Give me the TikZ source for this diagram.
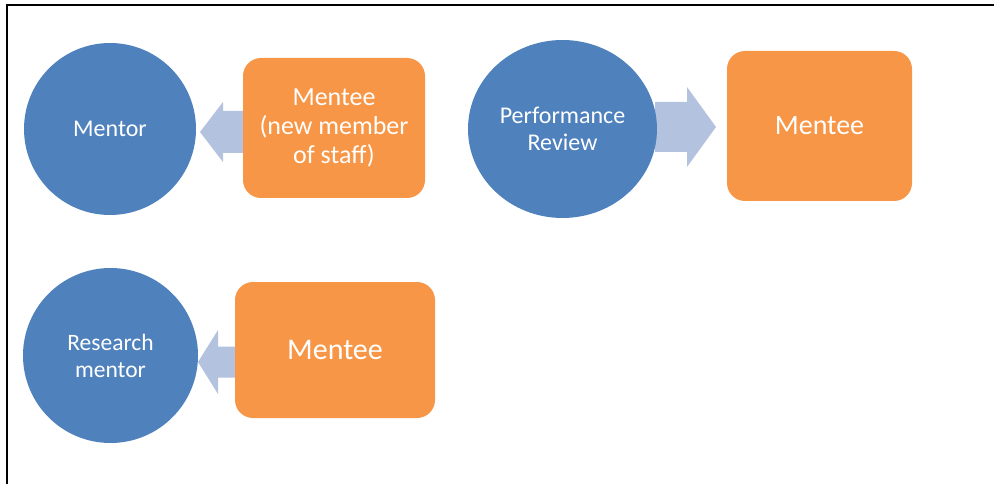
\documentclass[tikz,border=0pt]{standalone}
\usepackage{fontspec}
\setmainfont{Carlito}
\usetikzlibrary{shapes.geometric}
\definecolor{cblue}{HTML}{4F81BD}
\definecolor{corange}{HTML}{F79646}
\definecolor{carrow}{HTML}{B3C2DE}
\tikzset{
  bubble/.style={ellipse, fill=cblue, draw=none, inner sep=0pt, text=white, align=center},
  box/.style={rectangle, rounded corners=18pt, fill=corange, draw=none, inner sep=0pt, text=white, align=center},
  blockarrow/.style={fill=carrow, draw=none},
  frame/.style={draw=black, line width=2pt}
}
\begin{document}
\begin{tikzpicture}[x=1pt,y=-1pt]
\useasboundingbox (0,0) rectangle (994,484);
% frame
\draw[frame] (7,5) -- (994,5);
\draw[frame] (7,4) -- (7,484);
% arrows (drawn first, shapes overlap their ends)
\coordinate (t1) at (200,132);
\coordinate (t2) at (716,127);
\coordinate (t3) at (198,362);
\fill[blockarrow] (t1) -- ++(23,-30) -- ++(0,9) -- ++(22,0) -- ++(0,42) -- ++(-22,0) -- ++(0,9) -- cycle;
\fill[blockarrow] (t2) -- ++(-29,-40) -- ++(0,15) -- ++(-32,0) -- ++(0,50) -- ++(32,0) -- ++(0,15) -- cycle;
\fill[blockarrow] (t3) -- ++(20,-32) -- ++(0,16.5) -- ++(19,0) -- ++(0,31) -- ++(-19,0) -- ++(0,16.5) -- cycle;
% shapes
\node[bubble, minimum width=172pt, minimum height=172pt, font=\fontsize{24}{27}\selectfont] (mentor) at (110,129) {Mentor};
\node[box, minimum width=182pt, minimum height=140pt, font=\fontsize{26}{29}\selectfont] (mentee1) at (334,128) {Mentee\\(new member\\of staff)};
\node[bubble, minimum width=189pt, minimum height=178pt, font=\fontsize{24}{27}\selectfont] (review) at (562.5,129) {Performance\\Review};
\node[box, minimum width=185pt, minimum height=150pt, font=\fontsize{28}{32}\selectfont] (mentee2) at (819.5,126) {Mentee};
\node[bubble, minimum width=175pt, minimum height=175pt, font=\fontsize{23.5}{27}\selectfont] (research) at (110.5,355.5) {Research\\mentor};
\node[box, minimum width=200pt, minimum height=136pt, font=\fontsize{30}{34}\selectfont] (mentee3) at (335,350) {Mentee};
\end{tikzpicture}
\end{document}
